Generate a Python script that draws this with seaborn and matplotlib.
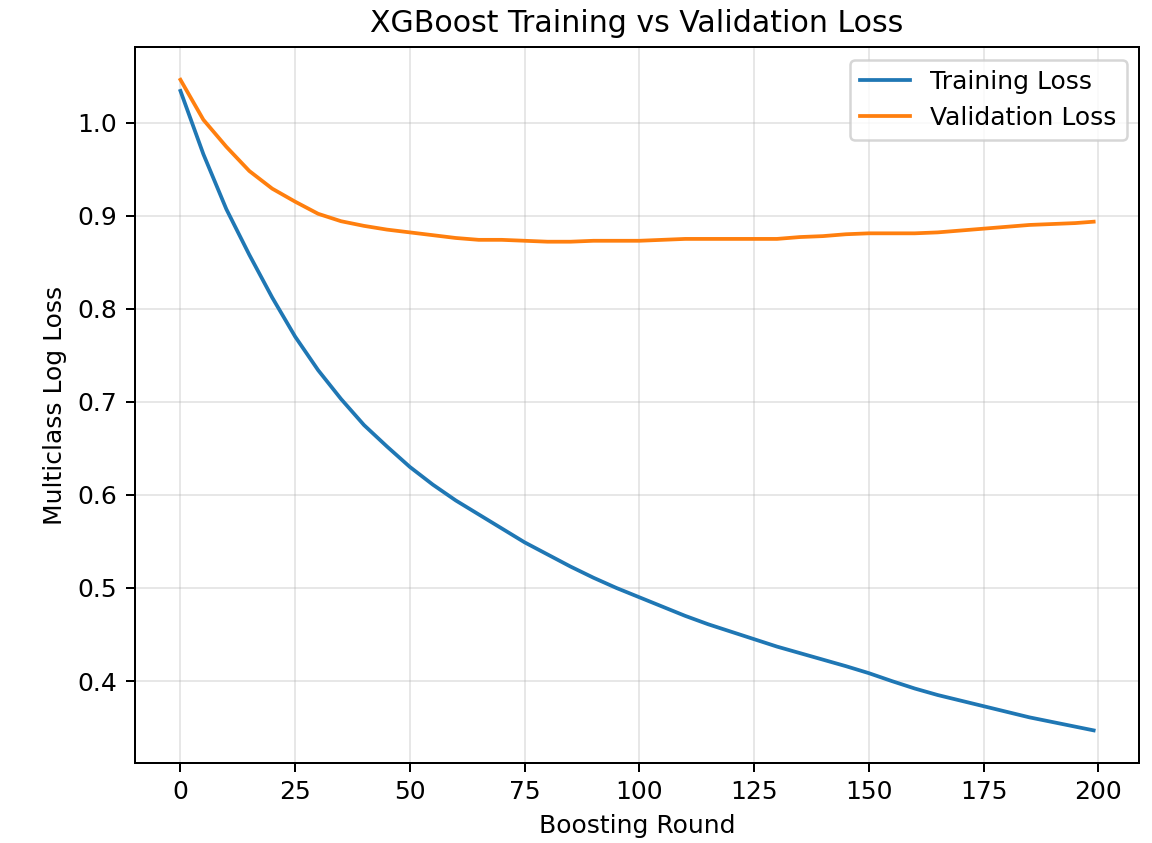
import matplotlib
matplotlib.use("Agg")
import matplotlib.pyplot as plt
import seaborn as sns
import pandas as pd

rounds = [0, 5, 10, 15, 20, 25, 30, 35, 40, 45, 50, 55, 60, 65, 70, 75, 80, 85, 90, 95,
          100, 105, 110, 115, 120, 125, 130, 135, 140, 145, 150, 155, 160, 165, 170, 175,
          180, 185, 190, 195, 199]

training_loss = [1.034, 0.966, 0.907, 0.858, 0.812, 0.770, 0.734, 0.703, 0.675, 0.652,
                 0.630, 0.611, 0.594, 0.579, 0.564, 0.549, 0.536, 0.523, 0.511, 0.500,
                 0.490, 0.480, 0.470, 0.461, 0.453, 0.445, 0.437, 0.430, 0.423, 0.416,
                 0.4085, 0.400, 0.392, 0.385, 0.379, 0.373, 0.367, 0.361, 0.356, 0.351,
                 0.347]

validation_loss = [1.046, 1.003, 0.974, 0.948, 0.929, 0.915, 0.902, 0.894, 0.889, 0.885,
                   0.882, 0.879, 0.876, 0.874, 0.874, 0.873, 0.872, 0.872, 0.873, 0.873,
                   0.873, 0.874, 0.875, 0.875, 0.875, 0.875, 0.875, 0.877, 0.878, 0.880,
                   0.881, 0.881, 0.881, 0.882, 0.884, 0.886, 0.888, 0.890, 0.891, 0.892,
                   0.8935]

series_names = ["Training Loss", "Validation Loss"]
colors = ["#1f77b4", "#ff7f0e"]

df = pd.DataFrame({
    "Boosting Round": rounds + rounds,
    "Loss": training_loss + validation_loss,
    "Series": [series_names[0]] * len(rounds) + [series_names[1]] * len(rounds),
})

fig, ax = plt.subplots(figsize=(6.4, 843 / 180), dpi=180)
fig.subplots_adjust(left=0.117, right=0.989, top=0.944, bottom=0.095)

sns.lineplot(data=df, x="Boosting Round", y="Loss", hue="Series",
             palette=dict(zip(series_names, colors)), ax=ax, linewidth=1.5)

ax.set_title("XGBoost Training vs Validation Loss", fontsize=12)
ax.set_xlabel("Boosting Round", fontsize=10)
ax.set_ylabel("Multiclass Log Loss", fontsize=10)
ax.set_xticks([0, 25, 50, 75, 100, 125, 150, 175, 200])
ax.grid(True, alpha=0.3)
ax.legend(title=None, loc="upper right")

fig.savefig("out.png", dpi=180)
